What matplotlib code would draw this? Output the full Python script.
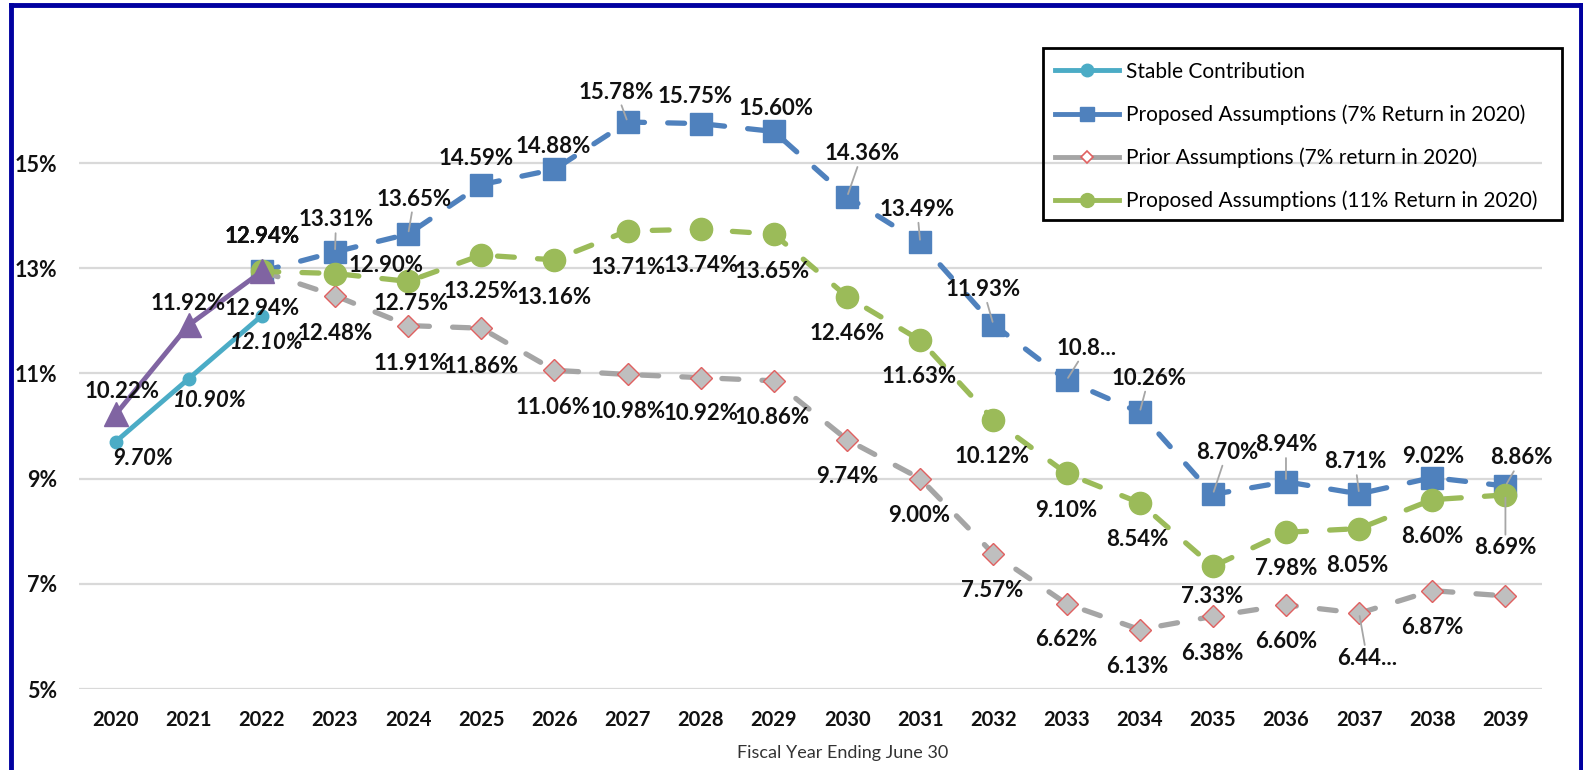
import matplotlib
matplotlib.use("Agg")
import matplotlib.pyplot as plt
from matplotlib.lines import Line2D
from matplotlib.patches import Rectangle

plt.rcParams['font.family'] = ['Lato', 'DejaVu Sans']

# Dados (% da folha de pagamento)
anos = ["2020", "2021", "2022", "2023", "2024", "2025", "2026", "2027", "2028", "2029",
        "2030", "2031", "2032", "2033", "2034", "2035", "2036", "2037", "2038", "2039"]

estavel = [9.70, 10.90, 12.10]                 # 2020-2022
real = [10.22, 11.92, 12.94]                   # 2020-2022 (roxo, fora da legenda)
proposta7 = [12.94, 13.31, 13.65, 14.59, 14.88, 15.78, 15.75, 15.60, 14.36, 13.49,
             11.93, 10.87, 10.26, 8.70, 8.94, 8.71, 9.02, 8.86]          # 2022-2039
anterior7 = [12.94, 12.48, 11.91, 11.86, 11.06, 10.98, 10.92, 10.86, 9.74, 9.00,
             7.57, 6.62, 6.13, 6.38, 6.60, 6.44, 6.87, 6.77]             # 2022-2039
proposta11 = [12.94, 12.90, 12.75, 13.25, 13.16, 13.71, 13.74, 13.65, 12.46, 11.63,
              10.12, 9.10, 8.54, 7.33, 7.98, 8.05, 8.60, 8.69]           # 2022-2039

nomes = ["Stable Contribution",
         "Proposed Assumptions (7% Return in 2020)",
         "Prior Assumptions (7% return in 2020)",
         "Proposed Assumptions (11% Return in 2020)"]

# deslocamento dos rotulos em pixels (dx, dy), None = sem rotulo
desl_estavel = [(27, -17), (21, -22), (5, -27)]
desl_real = [(6, 23), (-1, 22), (0, -37)]
desl_p7 = [(0, 35), (1, 32), (6, 35), (-5, 26), (-1, 23), (-11, 30), (-6, 27), (2, 23),
           (15, 43), (-3, 33), (-10, 35), (20, 32), (9, 34), (14, 42), (0, 37), (-4, 32),
           (1, 21), (16, 28)]
guia_p7 = [1, 2, 5, 8, 9, 10, 11, 12, 13, 14, 15, 17]
desl_p11 = [(0, 35), (51, 8), (3, -22), (0, -36), (0, -38), (0, -37), (0, -36), (-2, -37),
            (0, -37), (-1, -36), (-1, -37), (0, -37), (-2, -37), (-1, -30), (0, -36),
            (-2, -37), (0, -37), (0, -53)]
guia_p11 = [17]
desl_ant = [(0, 35), (0, -38), (3, -38), (0, -38), (-1, -37), (0, -37), (0, -36), (-2, -37),
            (0, -37), (-1, -37), (-1, -37), (0, -36), (-2, -37), (-1, -37), (0, -37),
            (8, -45), (0, -37), None]
guia_ant = [15]
# rotulos cortados no original
cortados = {("p7", 11): "10.8...", ("ant", 15): "6.44..."}

TEAL = "#4BACC6"
AZUL = "#4F81BD"
CINZA = "#A5A5A5"
VERDE = "#9BBB59"
ROXO = "#8064A2"
TRACO = (3.2, 4.4)


def rotular(ax, xs, vals, desl, chave, guias=(), italico=False):
    for i, (x, v) in enumerate(zip(xs, vals)):
        if desl[i] is None:
            continue
        txt = cortados.get((chave, i), "%.2f%%" % v)
        setas = None
        if i in guias:
            setas = dict(arrowstyle='-', color='#A6A6A6', lw=1.3, shrinkA=0, shrinkB=2)
        ax.annotate(txt, (x, v), xytext=desl[i], textcoords='offset pixels',
                    ha='center', va='center', fontsize=16, fontweight='bold',
                    style='italic' if italico else 'normal', color='#111111',
                    arrowprops=setas, zorder=10)


def main():
    fig = plt.figure(figsize=(15.83, 7.7), dpi=100)
    ax = fig.add_axes([79 / 1583, 81 / 770, (1542 - 79) / 1583, 0.806])

    x_all = list(range(len(anos)))
    x3 = x_all[:3]
    x18 = x_all[2:]

    ax.plot(x3, estavel, color=TEAL, lw=3.5, marker='o', ms=9, zorder=3)
    ax.plot(x18, proposta7, color=AZUL, lw=3.8, dashes=TRACO, dash_capstyle='round',
            marker='s', ms=16, zorder=4)
    ax.plot(x18, anterior7, color=CINZA, lw=3.8, dashes=TRACO, dash_capstyle='round',
            marker='D', ms=11, mfc='#BFBFBF', mec='#E06060', mew=1.0, zorder=5)
    ax.plot(x18, proposta11, color=VERDE, lw=3.8, dashes=TRACO, dash_capstyle='round',
            marker='o', ms=16, zorder=6)
    ax.plot(x3, real, color=ROXO, lw=3.5, marker='^', ms=17, zorder=7)

    rotular(ax, x3, estavel, desl_estavel, "est", italico=True)
    rotular(ax, x3, real, desl_real, "real")
    rotular(ax, x18, proposta7, desl_p7, "p7", guia_p7)
    rotular(ax, x18, anterior7, desl_ant, "ant", guia_ant)
    rotular(ax, x18, proposta11, desl_p11, "p11", guia_p11)

    ax.set_xlim(-0.5, 19.5)
    ax.set_ylim(5, 16.8)
    ax.set_yticks([5, 7, 9, 11, 13, 15])
    ax.set_yticklabels(["%d%%" % t for t in [5, 7, 9, 11, 13, 15]])
    ax.set_xticks(x_all)
    ax.set_xticklabels(anos)
    ax.tick_params(length=0, colors='#111111')
    ax.tick_params(axis='y', pad=16, labelsize=15.5)
    ax.tick_params(axis='x', pad=15, labelsize=14.5)
    for lab in ax.get_xticklabels() + ax.get_yticklabels():
        lab.set_fontweight('bold')
    ax.grid(axis='y', color='#D9D9D9', lw=1.6)
    ax.set_axisbelow(True)
    for s in ax.spines.values():
        s.set_visible(False)

    fig.text(843 / 1583, 1 - 753 / 770, "Fiscal Year Ending June 30", ha='center',
             va='center', fontsize=13, color='#333333')

    # legenda
    alcas = [
        Line2D([], [], color=TEAL, lw=3.5, marker='o', ms=9),
        Line2D([], [], color=AZUL, lw=3.5, marker='s', ms=10),
        Line2D([], [], color=CINZA, lw=3.5, marker='D', ms=6,
               mfc='white', mec='#E06060', mew=1.2),
        Line2D([], [], color=VERDE, lw=3.5, marker='o', ms=10),
    ]
    fig.legend(alcas, nomes, loc='upper left', bbox_to_anchor=(1036 / 1583, 1 - 43 / 770),
               frameon=False, fontsize=15, handlelength=3.1, handletextpad=0.3,
               labelspacing=1.08, borderpad=0.4)
    fig.add_artist(Rectangle((1043 / 1583, 1 - 220 / 770), (1562 - 1043) / 1583,
                             (220 - 48) / 770, transform=fig.transFigure, fill=False,
                             ec='black', lw=2))

    # moldura azul
    navy = '#0000A0'
    fig.add_artist(Line2D([11 / 1583, 11 / 1583], [0, 1 - 5 / 770], color=navy, lw=3.5,
                          transform=fig.transFigure))
    fig.add_artist(Line2D([11 / 1583, 1581 / 1583], [1 - 5 / 770, 1 - 5 / 770], color=navy,
                          lw=3.5, transform=fig.transFigure))
    fig.add_artist(Line2D([1581 / 1583, 1581 / 1583], [0, 1 - 5 / 770], color=navy, lw=3.5,
                          transform=fig.transFigure))

    fig.savefig("out.png", dpi=100)


if __name__ == '__main__':
    main()
